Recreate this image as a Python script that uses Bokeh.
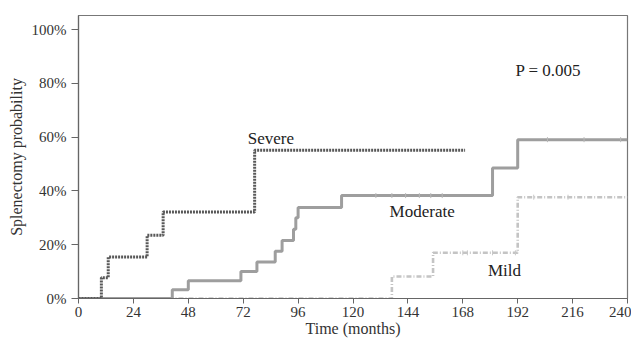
import math
from bokeh.plotting import figure
from bokeh.models import FixedTicker, Range1d
from bokeh.core.properties import value
from bokeh.embed import file_html
from bokeh.resources import INLINE

# ---- data (months, % probability) ----
severe_t = [0, 10, 13, 30, 37, 77, 169]
severe_p = [0, 7.7, 15.4, 23.5, 32.2, 55.2, 55.2]

moderate_t = [0, 41, 48, 71, 78, 86, 89, 94, 95, 96, 115, 181, 192, 240]
moderate_p = [0, 3.3, 6.6, 10.0, 13.6, 17.6, 21.6, 25.8, 30.0, 33.9, 38.3, 48.6, 59.1, 59.1]

mild_t = [0, 137, 155, 192, 240]
mild_p = [0, 8.2, 17.0, 37.7, 37.7]

moderate_cens_t = [130, 137, 143, 149, 154, 159, 205, 221, 237]
moderate_cens_p = [38.3, 38.3, 38.3, 38.3, 38.3, 38.3, 59.1, 59.1, 59.1]
mild_cens_t = [168, 170, 181, 191, 199, 214]
mild_cens_p = [17.0, 17.0, 17.0, 17.0, 37.7, 37.7]

x_ticks = [0, 24, 48, 72, 96, 120, 144, 168, 192, 216, 240]
y_ticks = [0, 20, 40, 60, 80, 100]
y_tick_labels = {v: f"{v}%" for v in y_ticks}

labels = ["Severe", "Moderate", "Mild", "P = 0.005"]
label_x = [74, 136, 179, 191]
label_y = [59.6, 32.5, 10.3, 84.8]

FONT = "Liberation Serif"
TXT = "#333333"

p = figure(width=631, height=339, output_backend="svg", toolbar_location=None,
           x_range=Range1d(0, 240), y_range=Range1d(0, 105.3),
           min_border_left=78, min_border_right=4, min_border_top=15, min_border_bottom=40)
p.background_fill_color = "white"
p.border_fill_color = "white"
p.outline_line_color = "#777777"
p.outline_line_width = 1.2
p.grid.visible = False

p.step(mild_t, mild_p, mode="after", line_color="#c4c4c4", line_width=2.6, line_dash="5 2 1 2")
p.step(moderate_t, moderate_p, mode="after", line_color="#9e9e9e", line_width=3)
p.step(severe_t, severe_p, mode="after", line_color="#585858", line_width=3, line_dash="2 1")

p.scatter(moderate_cens_t, moderate_cens_p, marker="dash", angle=math.pi / 2, size=5,
          line_color="#b8b8b8", line_width=1)
p.scatter(mild_cens_t, mild_cens_p, marker="dash", angle=math.pi / 2, size=5,
          line_color="#c8c8c8", line_width=1)

p.text(x=label_x, y=label_y, text=labels, text_font=value(FONT), text_font_size="17px",
       text_color="#222222", text_baseline="middle", text_align="left")

for ax in (p.xaxis, p.yaxis):
    ax.axis_line_color = "#666666"
    ax.axis_line_width = 1.2
    ax.major_tick_line_color = "#666666"
    ax.minor_tick_line_color = None
    ax.major_tick_in = 0
    ax.major_label_text_font = FONT
    ax.major_label_text_font_size = "15px"
    ax.major_label_text_color = TXT
    ax.axis_label_text_font = FONT
    ax.axis_label_text_font_size = "16px"
    ax.axis_label_text_font_style = "normal"
    ax.axis_label_text_color = TXT

p.xaxis.ticker = FixedTicker(ticks=x_ticks)
p.xaxis.major_tick_out = 5
p.xaxis.major_label_standoff = 3
p.xaxis.axis_label = "Time (months)"
p.xaxis.axis_label_standoff = 0

p.yaxis.ticker = FixedTicker(ticks=y_ticks)
p.yaxis.major_label_overrides = y_tick_labels
p.yaxis.major_tick_out = 7
p.yaxis.major_label_standoff = 5
p.yaxis.axis_label = "Splenectomy probability"
p.yaxis.axis_label_standoff = 4

open("out.html", "w").write(file_html(p, INLINE))
